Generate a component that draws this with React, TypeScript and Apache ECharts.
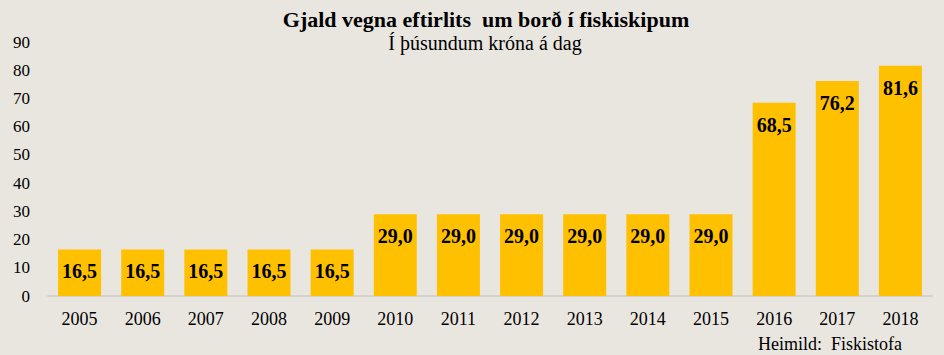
import React, { useEffect, useRef } from "react";
import * as echarts from "echarts";

const categories = ["2005", "2006", "2007", "2008", "2009", "2010", "2011", "2012", "2013", "2014", "2015", "2016", "2017", "2018"];
const values = [16.5, 16.5, 16.5, 16.5, 16.5, 29.0, 29.0, 29.0, 29.0, 29.0, 29.0, 68.5, 76.2, 81.6];
const titleText = "Gjald vegna eftirlits  um borð í fiskiskipum";
const subtitleText = "Í þúsundum króna á dag";
const sourceText = "Heimild:  Fiskistofa";

const FONT = "'Liberation Serif', 'Times New Roman', serif";

export default function App() {
  const ref = useRef<HTMLDivElement>(null);
  useEffect(() => {
    document.body.style.margin = "0";
    const chart = echarts.init(ref.current!, null, { renderer: "svg" });
    chart.setOption({
      animation: false,
      backgroundColor: "#E9E6E0",
      title: [
        {
          text: titleText,
          left: 481,
          textAlign: "center",
          top: 3,
          textStyle: { fontFamily: FONT, fontSize: 22, fontWeight: "bold", color: "#000" },
        },
        {
          text: subtitleText,
          left: 480,
          textAlign: "center",
          top: 28,
          textStyle: { fontFamily: FONT, fontSize: 20, fontWeight: "normal", color: "#000" },
        },
        {
          text: sourceText,
          left: 753,
          top: 330,
          textStyle: { fontFamily: FONT, fontSize: 18, fontWeight: "normal", color: "#000" },
        },
      ],
      grid: { left: 48, right: 12, top: 42, bottom: 59, containLabel: false },
      xAxis: {
        type: "category",
        data: categories,
        axisLine: { show: true, lineStyle: { color: "#D6D3CE", width: 2 } },
        axisTick: { show: false },
        axisLabel: { fontFamily: FONT, fontSize: 18, color: "#000", margin: 14 },
      },
      yAxis: {
        type: "value",
        min: 0,
        max: 90,
        interval: 10,
        splitLine: { show: false },
        axisLine: { show: false },
        axisTick: { show: false },
        axisLabel: { fontFamily: FONT, fontSize: 17, color: "#000", margin: 18 },
      },
      series: [
        {
          type: "bar",
          data: values,
          barWidth: 43,
          itemStyle: { color: "#FFC000" },
          label: {
            show: true,
            position: "insideTop",
            distance: 12,
            fontFamily: FONT,
            fontSize: 20,
            fontWeight: "bold",
            color: "#000",
            formatter: (p: any) => p.value.toFixed(1).replace(".", ","),
          },
        },
      ],
    });
    return () => chart.dispose();
  }, []);
  return <div ref={ref} style={{ width: 944, height: 355 }} />;
}
